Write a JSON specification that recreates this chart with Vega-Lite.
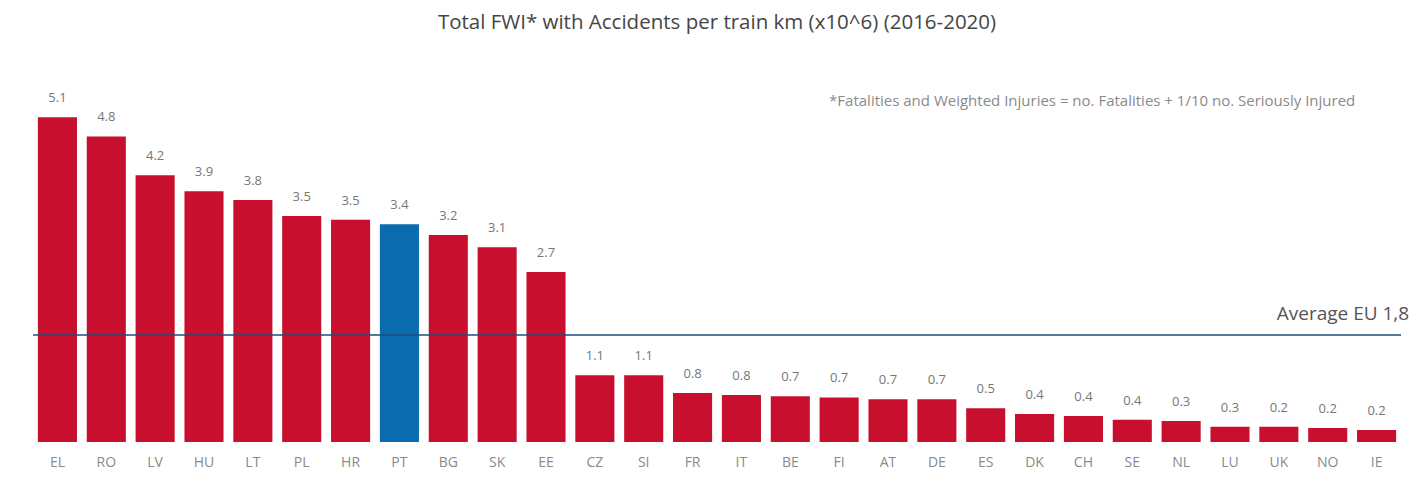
{
  "$schema": "https://vega.github.io/schema/vega-lite/v6.json",
  "width": 1368,
  "height": 382,
  "autosize": "none",
  "padding": {"left": 33, "top": 60, "right": 23, "bottom": 51},
  "background": "white",
  "config": {"view": {"stroke": null}, "font": "Open Sans"},
  "title": {
    "text": "Total FWI* with Accidents per train km (x10^6) (2016-2020)",
    "fontSize": 20.5,
    "fontWeight": "normal",
    "color": "#454545",
    "font": "Open Sans",
    "anchor": "middle",
    "offset": 27
  },
  "data": {
    "values": [
      {"country": "EL", "value": 5.1, "label": "5.1", "pt": "no"},
      {"country": "RO", "value": 4.8, "label": "4.8", "pt": "no"},
      {"country": "LV", "value": 4.19, "label": "4.2", "pt": "no"},
      {"country": "HU", "value": 3.94, "label": "3.9", "pt": "no"},
      {"country": "LT", "value": 3.8, "label": "3.8", "pt": "no"},
      {"country": "PL", "value": 3.55, "label": "3.5", "pt": "no"},
      {"country": "HR", "value": 3.49, "label": "3.5", "pt": "no"},
      {"country": "PT", "value": 3.42, "label": "3.4", "pt": "yes"},
      {"country": "BG", "value": 3.25, "label": "3.2", "pt": "no"},
      {"country": "SK", "value": 3.06, "label": "3.1", "pt": "no"},
      {"country": "EE", "value": 2.67, "label": "2.7", "pt": "no"},
      {"country": "CZ", "value": 1.05, "label": "1.1", "pt": "no"},
      {"country": "SI", "value": 1.05, "label": "1.1", "pt": "no"},
      {"country": "FR", "value": 0.77, "label": "0.8", "pt": "no"},
      {"country": "IT", "value": 0.74, "label": "0.8", "pt": "no"},
      {"country": "BE", "value": 0.72, "label": "0.7", "pt": "no"},
      {"country": "FI", "value": 0.7, "label": "0.7", "pt": "no"},
      {"country": "AT", "value": 0.67, "label": "0.7", "pt": "no"},
      {"country": "DE", "value": 0.67, "label": "0.7", "pt": "no"},
      {"country": "ES", "value": 0.53, "label": "0.5", "pt": "no"},
      {"country": "DK", "value": 0.44, "label": "0.4", "pt": "no"},
      {"country": "CH", "value": 0.41, "label": "0.4", "pt": "no"},
      {"country": "SE", "value": 0.35, "label": "0.4", "pt": "no"},
      {"country": "NL", "value": 0.33, "label": "0.3", "pt": "no"},
      {"country": "LU", "value": 0.24, "label": "0.3", "pt": "no"},
      {"country": "UK", "value": 0.24, "label": "0.2", "pt": "no"},
      {"country": "NO", "value": 0.22, "label": "0.2", "pt": "no"},
      {"country": "IE", "value": 0.19, "label": "0.2", "pt": "no"}
    ]
  },
  "encoding": {
    "x": {
      "field": "country",
      "type": "nominal",
      "sort": null,
      "scale": {"paddingInner": 0.2, "paddingOuter": 0.1},
      "axis": {
        "title": null,
        "domain": false,
        "ticks": false,
        "labelAngle": 0,
        "labelPadding": 13,
        "labelFontSize": 14,
        "labelColor": "#8a8a8a",
        "labelFont": "Open Sans"
      }
    },
    "y": {
      "field": "value",
      "type": "quantitative",
      "scale": {"domain": [0, 6], "nice": false},
      "axis": null
    }
  },
  "layer": [
    {
      "mark": {"type": "bar"},
      "encoding": {
        "color": {
          "field": "pt",
          "type": "nominal",
          "scale": {"domain": ["no", "yes"], "range": ["#C8102E", "#0B6BAF"]},
          "legend": null
        }
      }
    },
    {
      "mark": {"type": "text", "baseline": "bottom", "dy": -12, "fontSize": 13, "color": "#777777", "font": "Open Sans"},
      "encoding": {"text": {"field": "label"}}
    },
    {
      "data": {"values": [{"avg": 1.68, "note": "Average EU 1,8", "anchor": "IE"}]},
      "layer": [
        {
          "mark": {"type": "rule", "color": "#1F4E79", "strokeWidth": 1.5},
          "encoding": {"y": {"field": "avg", "type": "quantitative"}, "x": null}
        },
        {
          "mark": {"type": "text", "align": "right", "baseline": "bottom", "dy": -11, "dx": 13, "fontSize": 19, "color": "#555555", "font": "Open Sans"},
          "encoding": {
            "y": {"field": "avg", "type": "quantitative"},
            "x": {"field": "anchor", "type": "nominal", "bandPosition": 1},
            "text": {"field": "note"}
          }
        }
      ]
    },
    {
      "data": {"values": [{"yv": 5.35, "anchor": "NO", "note": "*Fatalities and Weighted Injuries = no. Fatalities + 1/10 no. Seriously Injured"}]},
      "mark": {"type": "text", "align": "right", "baseline": "middle", "dx": 8, "fontSize": 15, "color": "#8a8a8a", "font": "Open Sans"},
      "encoding": {
        "y": {"field": "yv", "type": "quantitative"},
        "x": {"field": "anchor", "type": "nominal", "bandPosition": 1},
        "text": {"field": "note"}
      }
    }
  ]
}
